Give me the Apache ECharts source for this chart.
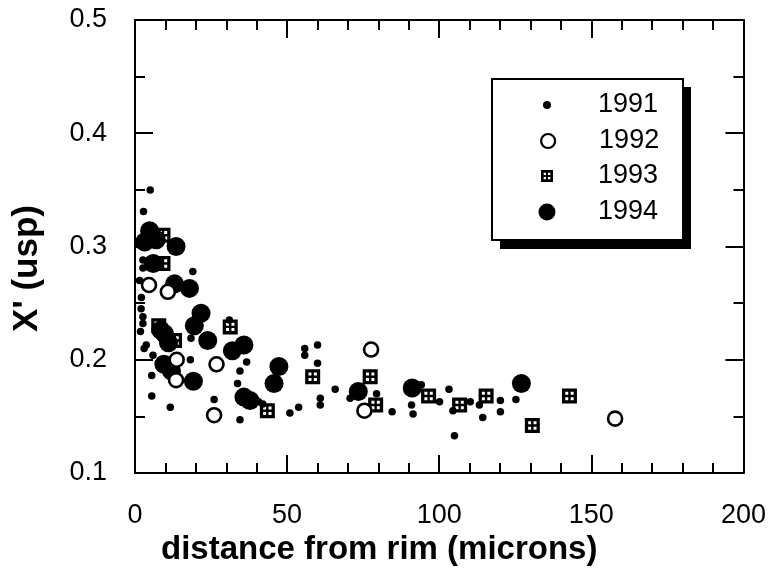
<!DOCTYPE html>
<html>
<head>
<meta charset="utf-8">
<script src="https://cdn.jsdelivr.net/npm/echarts@6/dist/echarts.min.js"></script>
<style>
  html, body { margin: 0; padding: 0; background: #fff; }
  #main { width: 769px; height: 579px; }
</style>
</head>
<body>
<div id="main"></div>
<script>
// tick labels
const xTicks = [0, 50, 100, 150, 200];
const yTicks = [0.1, 0.2, 0.3, 0.4, 0.5];

// [distance (microns), X' (usp)]
const d1991 = [
  [5, 0.350], [2.8, 0.331], [2.6, 0.288], [2.6, 0.281], [19, 0.278], [1.5, 0.270], [2.1, 0.255],
  [2, 0.245], [2.6, 0.238], [2.6, 0.232], [1.8, 0.225], [31, 0.235], [18.4, 0.219], [3.7, 0.213],
  [3, 0.210], [5.9, 0.204], [18.2, 0.200], [36.7, 0.198], [34.5, 0.190], [5.5, 0.186], [5.5, 0.168],
  [11.6, 0.158], [33.7, 0.179], [26, 0.165], [34.5, 0.147], [38.5, 0.165], [40.6, 0.163], [42, 0.161],
  [50.9, 0.153], [53.8, 0.158], [55.8, 0.210], [55.8, 0.204], [60, 0.213], [60, 0.197], [60.9, 0.166],
  [60.9, 0.160], [65.8, 0.174], [70.7, 0.166], [79.4, 0.170], [84.5, 0.154], [94.1, 0.178],
  [100.1, 0.163], [90.9, 0.160], [91.4, 0.152], [103.2, 0.174], [105, 0.133], [104.5, 0.155],
  [110.2, 0.163], [113.2, 0.160], [114.3, 0.149], [120.1, 0.164], [120.1, 0.154], [125.2, 0.165]
];
const d1992 = [
  [4.6, 0.266], [10.8, 0.260], [13.7, 0.200], [26.8, 0.196], [13.5, 0.182], [26, 0.151],
  [77.6, 0.209], [75.4, 0.155], [157.8, 0.148]
];
const d1993 = [
  [9.2, 0.310], [9.2, 0.285], [31.3, 0.229], [7.8, 0.230], [13, 0.217], [43.5, 0.155],
  [58.4, 0.185], [77.3, 0.185], [79.1, 0.160], [96.5, 0.168], [106.7, 0.160], [115.4, 0.168],
  [130.6, 0.142], [142.8, 0.168]
];
const d1994 = [
  [4.8, 0.314], [3.2, 0.304], [7, 0.306], [13.5, 0.300], [6, 0.285], [13, 0.267], [17.9, 0.263],
  [21.7, 0.241], [19.5, 0.230], [8.5, 0.226], [9.7, 0.223], [11, 0.215], [23.9, 0.217], [32, 0.208],
  [35.8, 0.213], [9.5, 0.196], [12, 0.190], [19.2, 0.181], [47.3, 0.194], [45.7, 0.179],
  [35.8, 0.167], [37.8, 0.164], [73.4, 0.172], [91.1, 0.175], [127, 0.179]
];

const font = "'Liberation Sans', Arial, sans-serif";
// square with a cross inside (holes wound the other way)
const boxIcon = "path://M0,0L10,0L10,10L0,10Z M2.2,2.2L2.2,4.2L4.2,4.2L4.2,2.2Z M5.8,2.2L5.8,4.2L7.8,4.2L7.8,2.2Z M2.2,5.8L2.2,7.8L4.2,7.8L4.2,5.8Z M5.8,5.8L5.8,7.8L7.8,7.8L7.8,5.8Z";

const chart = echarts.init(document.getElementById("main"));

const tickStyle = { color: "#000", width: 2 };
const mkX = (pos, labels) => ({
  type: "value",
  position: pos,
  min: xTicks[0],
  max: xTicks[xTicks.length - 1],
  interval: xTicks[1] - xTicks[0],
  axisLine: { show: true, onZero: false, lineStyle: { color: "#000", width: 2 } },
  axisTick: { show: true, inside: true, length: 18, lineStyle: tickStyle },
  minorTick: { show: true, splitNumber: 5, length: 10, lineStyle: tickStyle },
  axisLabel: { show: labels, color: "#000", fontSize: 27, fontFamily: font, margin: 29 },
  splitLine: { show: false }
});
const mkY = (pos, labels) => ({
  type: "value",
  position: pos,
  min: yTicks[0],
  max: yTicks[yTicks.length - 1],
  interval: 0.1,
  axisLine: { show: true, onZero: false, lineStyle: { color: "#000", width: 2 } },
  axisTick: { show: true, inside: true, length: 18, lineStyle: tickStyle },
  minorTick: { show: true, splitNumber: 2, length: 10, lineStyle: tickStyle },
  axisLabel: { show: labels, color: "#000", fontSize: 27, fontFamily: font, margin: 28,
    formatter: (v) => v.toFixed(1) },
  splitLine: { show: false }
});

const xBottom = mkX("bottom", true);
xBottom.name = "distance from rim (microns)";
xBottom.nameLocation = "middle";
xBottom.nameGap = 54;
xBottom.nameTextStyle = { color: "#000", fontSize: 33, fontWeight: "bold", fontFamily: font,
  padding: [0, 120, 0, 0] };
const yLeft = mkY("left", true);
yLeft.name = "X' (usp)";
yLeft.nameLocation = "middle";
yLeft.nameGap = 90;
yLeft.nameTextStyle = { color: "#000", fontSize: 35, fontWeight: "bold", fontFamily: font,
  padding: [0, 44, 0, 0] };

// one legend per entry so each icon keeps its own size
const rows = [
  { name: "1991", y: 105, w: 8, icon: "circle", style: { color: "#000" } },
  { name: "1992", y: 141, w: 14, icon: "circle", style: { color: "#fff", borderColor: "#000", borderWidth: 2.2 } },
  { name: "1993", y: 176, w: 12, icon: boxIcon, style: { color: "#000" } },
  { name: "1994", y: 212, w: 17, icon: "circle", style: { color: "#000" } }
];
const legends = rows.map((r) => ({
  data: [{ name: r.name, icon: r.icon, itemStyle: r.style }],
  left: 547 - r.w / 2,
  top: r.y - 14,
  padding: 0,
  itemWidth: r.w,
  itemHeight: r.w,
  selectedMode: false,
  textStyle: { color: "#000", fontSize: 27, fontFamily: font, lineHeight: 28,
    padding: [0, 0, 0, 46 - r.w / 2] }
}));

const option = {
  backgroundColor: "#fff",
  animation: false,
  grid: { left: 135, right: 21, top: 20, bottom: 106 },
  xAxis: [xBottom, mkX("top", false)],
  yAxis: [yLeft, mkY("right", false)],
  legend: legends,
  graphic: [
    { type: "rect", z: 3, shape: { x: 500, y: 87, width: 191, height: 162 }, style: { fill: "#000" } },
    { type: "rect", z: 3, shape: { x: 492, y: 79, width: 191, height: 161 },
      style: { fill: "#fff", stroke: "#000", lineWidth: 2 } }
  ],
  series: [
    { name: "1994", type: "scatter", data: d1994, symbol: "circle", symbolSize: 19,
      itemStyle: { color: "#000", opacity: 1 } },
    { name: "1991", type: "scatter", data: d1991, symbol: "circle", symbolSize: 7.5,
      itemStyle: { color: "#000", opacity: 1 } },
    { name: "1993", type: "scatter", data: d1993, symbol: boxIcon, symbolSize: 15,
      itemStyle: { color: "#000", opacity: 1 } },
    { name: "1992", type: "scatter", data: d1992, symbol: "circle", symbolSize: 14,
      itemStyle: { color: "#fff", borderColor: "#000", borderWidth: 2.6, opacity: 1 } }
  ]
};
chart.setOption(option);
</script>
</body>
</html>
